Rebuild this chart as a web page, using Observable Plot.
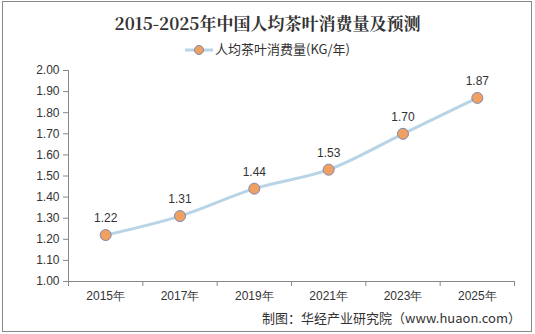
<!DOCTYPE html>
<html><head><meta charset="utf-8">
<script src="https://cdn.jsdelivr.net/npm/d3@7"></script>
<script src="https://cdn.jsdelivr.net/npm/@observablehq/plot@0.6"></script>
<style>
body{margin:0;background:#fff;}
#wrap{position:relative;width:535px;height:334px;overflow:hidden;font-family:"Liberation Sans",Arial,sans-serif;}
#frame{position:absolute;left:2px;top:1px;width:528px;height:329px;border:1px solid #888;box-sizing:content-box;}
#title{position:absolute;left:0;width:535px;top:10px;text-align:center;font-family:"Noto Serif CJK SC","Noto Sans CJK SC",serif;font-weight:bold;font-size:17px;color:#333;}
#legend{position:absolute;left:0;width:535px;top:39px;text-align:center;font-size:13px;color:#333;font-family:"Noto Sans CJK SC",sans-serif;}
#legend svg{vertical-align:middle;margin-right:2px;}
#chart{position:absolute;left:0;top:58px;}
#caption{position:absolute;right:14px;top:308px;font-size:13px;color:#333;font-family:"Noto Sans CJK SC",sans-serif;}
</style></head>
<body><div id="wrap">
<div id="frame"></div>
<div id="title">2015-2025年中国人均茶叶消费量及预测</div>
<div id="legend"><svg width="28" height="12"><line x1="0" y1="6" x2="28" y2="6" stroke="#b8d4e6" stroke-width="3"/><circle cx="14" cy="6" r="4.5" fill="#f0a060" stroke="#8088b0" stroke-width="1"/></svg>人均茶叶消费量(KG/年)</div>
<div id="chart"></div>
<div id="caption">制图：华经产业研究院（www.huaon.com）</div>
</div>
<script>
const years = [2015, 2017, 2019, 2021, 2023, 2025];
const values = [1.22, 1.31, 1.44, 1.53, 1.70, 1.87];
const yTicks = [1.0, 1.1, 1.2, 1.3, 1.4, 1.5, 1.6, 1.7, 1.8, 1.9, 2.0];
const data = years.map((y, i) => ({year: y, value: values[i]}));
const bounds = years.map(y => y - 1).concat([years[years.length - 1] + 1]);

const chart = Plot.plot({
  width: 535,
  height: 250,
  marginLeft: 68,
  marginRight: 21,
  marginTop: 12,
  marginBottom: 27,
  style: {fontFamily: "'Liberation Sans', Arial, sans-serif", fontSize: "12px", color: "#333", background: "transparent"},
  x: {domain: [bounds[0], bounds[bounds.length - 1]], axis: null},
  y: {domain: [1.0, 2.0], axis: null},
  marks: [
    Plot.axisY({ticks: yTicks, tickFormat: d => d.toFixed(2), tickSize: 5, tickPadding: 4, fontSize: 12, stroke: "#888", color: "#333", label: null}),
    Plot.axisX({ticks: bounds, tickFormat: () => "", tickSize: 5, stroke: "#888", label: null}),
    Plot.axisX({ticks: years, tickFormat: d => d + "年", tickSize: 0, tickPadding: 10, fontSize: 12, label: null}),
    Plot.ruleY([1.0], {stroke: "#888"}),
    Plot.ruleX([bounds[0]], {stroke: "#888"}),
    Plot.line(data, {x: "year", y: "value", stroke: "#b8d4e6", strokeWidth: 3, curve: "catmull-rom"}),
    Plot.dot(data, {x: "year", y: "value", r: 5.5, fill: "#f0a060", stroke: "#8088b0", strokeWidth: 1}),
    Plot.text(data, {x: "year", y: "value", text: d => d.value.toFixed(2), dy: -17, fontSize: 12, fill: "#333"})
  ]
});
document.getElementById("chart").appendChild(chart);
</script>
</body></html>
